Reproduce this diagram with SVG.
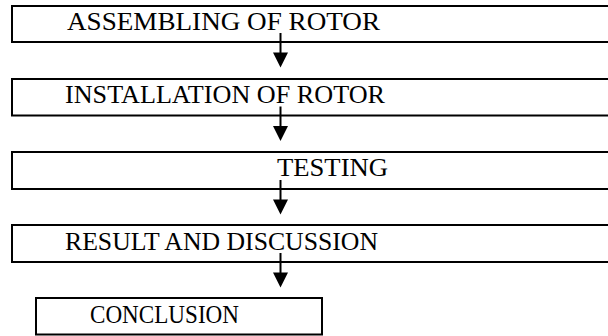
<svg xmlns="http://www.w3.org/2000/svg" width="608" height="336" viewBox="0 0 608 336">
<style>
.box{fill:#fff;stroke:#000;stroke-width:2}
text{font-family:'Liberation Serif','Times New Roman',serif;font-size:25.5px;fill:#000}
.c{stroke:#000;stroke-width:2;fill:none}
.h{fill:#000}
</style>
<rect width="608" height="336" fill="#fff"/>
<g id="n1"><rect class="box" x="12" y="6" width="610" height="36"/><text x="67" y="29.5" textLength="313" lengthAdjust="spacingAndGlyphs">ASSEMBLING OF ROTOR</text></g>
<g id="n2"><rect class="box" x="12" y="79" width="610" height="36.5"/><text x="65" y="102.5" textLength="320" lengthAdjust="spacingAndGlyphs">INSTALLATION OF ROTOR</text></g>
<g id="n3"><rect class="box" x="12" y="152" width="610" height="37"/><text x="277" y="176" textLength="111" lengthAdjust="spacingAndGlyphs">TESTING</text></g>
<g id="n4"><rect class="box" x="12" y="225" width="610" height="37"/><text x="65" y="249.5" textLength="313" lengthAdjust="spacingAndGlyphs">RESULT AND DISCUSSION</text></g>
<g id="n5"><rect class="box" x="36" y="298" width="286" height="36.5"/><text x="90" y="323" textLength="149" lengthAdjust="spacingAndGlyphs">CONCLUSION</text></g>
<g id="connectors">
<line class="c" x1="280.5" y1="33" x2="280.5" y2="54"/><polygon class="h" points="273,52.5 288,52.5 280.5,67.5"/>
<line class="c" x1="280.5" y1="106.5" x2="280.5" y2="127.5"/><polygon class="h" points="273,126 288,126 280.5,141"/>
<line class="c" x1="280.5" y1="180" x2="280.5" y2="201"/><polygon class="h" points="273,199.5 288,199.5 280.5,214.5"/>
<line class="c" x1="280.5" y1="253" x2="280.5" y2="274"/><polygon class="h" points="273,272.5 288,272.5 280.5,287.5"/>
</g>
</svg>
